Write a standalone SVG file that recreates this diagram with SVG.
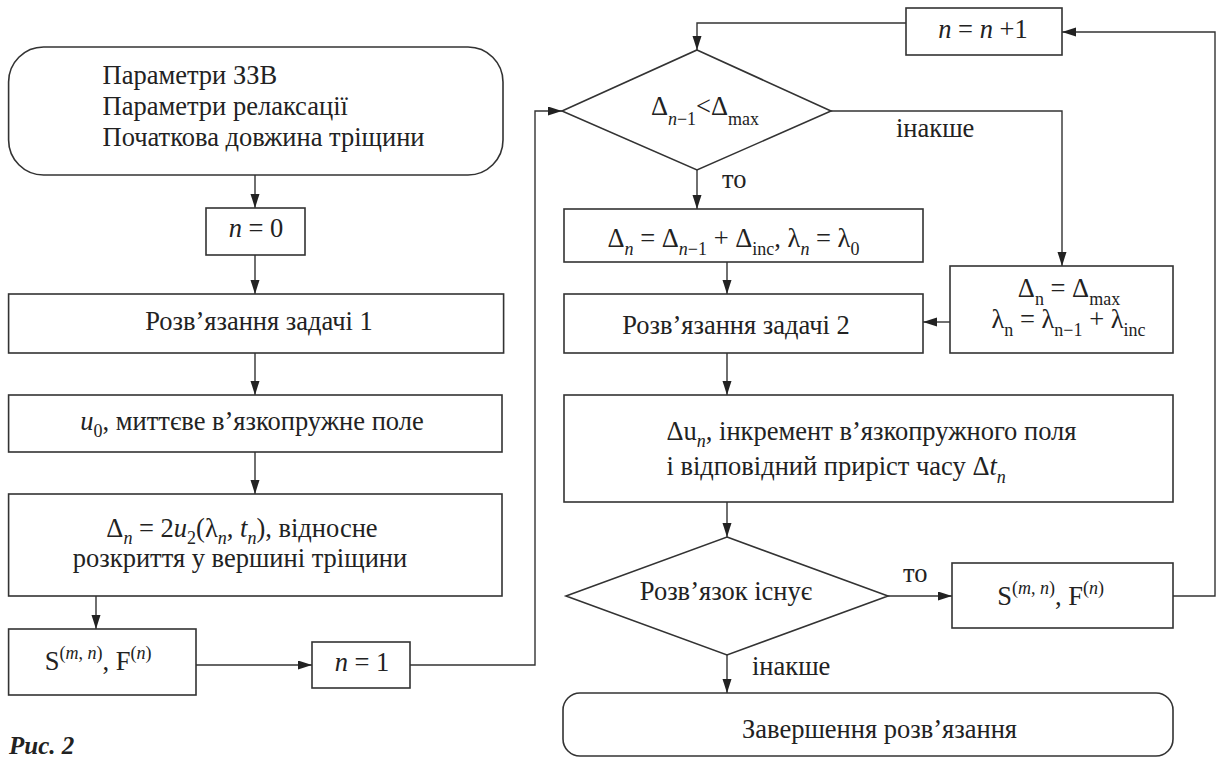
<svg xmlns="http://www.w3.org/2000/svg" width="1217" height="758" viewBox="0 0 1217 758" font-family="Liberation Serif, Tinos, Times New Roman, DejaVu Serif, serif">
<defs>
<marker id="ah" markerUnits="userSpaceOnUse" markerWidth="14" markerHeight="10" refX="14" refY="4.5" orient="auto">
<path d="M0,0 L14,4.5 L0,9 z" fill="#222"/>
</marker>
<style>
.b{fill:#fff;stroke:#333;stroke-width:1.6}
.c{fill:none;stroke:#333;stroke-width:1.4}
.a{marker-end:url(#ah)}
text{font-size:26.5px;fill:#222}
.m{text-anchor:middle}
.i{font-style:italic}
.s{font-size:18px}
.cap{font-weight:bold;font-style:italic;font-size:25px}
</style>
</defs>
<rect width="1217" height="758" fill="#fff"/>
<g id="connectors">
<path class="c a" d="M255,175 V208"/>
<path class="c a" d="M255,255 V294"/>
<path class="c a" d="M255,353 V395"/>
<path class="c a" d="M255,452 V494"/>
<path class="c a" d="M96,596 V629"/>
<path class="c a" d="M196,665 H312"/>
<path class="c a" d="M410,665 H535 V111 H562"/>
<path class="c a" d="M697,170 V209"/>
<path class="c a" d="M727,262 V294"/>
<path class="c a" d="M831,111 H1062 V266"/>
<path class="c a" d="M950,322 H923"/>
<path class="c a" d="M727,353 V395"/>
<path class="c a" d="M727,502 V537"/>
<path class="c a" d="M888,596 H952"/>
<path class="c a" d="M1173,596 H1215 V32 H1062"/>
<path class="c a" d="M906,23 H697 V50"/>
<path class="c a" d="M727,655 V693"/>
</g>
<g id="start">
<rect class="b" x="8.6" y="47" width="494.4" height="128" rx="35"/>
<text x="102.5" y="84">Параметри ЗЗВ</text>
<text x="102.5" y="115">Параметри релаксації</text>
<text x="102.5" y="146">Початкова довжина тріщини</text>
</g>
<g id="n0">
<rect class="b" x="206" y="208" width="99" height="47"/>
<text class="m" x="256" y="237"><tspan class="i">n</tspan> = 0</text>
</g>
<g id="task1">
<rect class="b" x="8.6" y="294" width="495" height="59"/>
<text class="m" x="259" y="330">Розв’язання задачі 1</text>
</g>
<g id="u0">
<rect class="b" x="8.6" y="395" width="493.4" height="57"/>
<text class="m" x="252" y="430"><tspan class="i">u</tspan><tspan class="s" dy="7">0</tspan><tspan dy="-7">, миттєве в’язкопружне поле</tspan></text>
</g>
<g id="delta-n">
<rect class="b" x="8.6" y="494" width="493.4" height="102"/>
<text class="m" x="242" y="537">Δ<tspan class="s i" dy="7">n</tspan><tspan dy="-7"> = 2</tspan><tspan class="i">u</tspan><tspan class="s" dy="7">2</tspan><tspan dy="-7">(λ</tspan><tspan class="s i" dy="7">n</tspan><tspan dy="-7">, </tspan><tspan class="i">t</tspan><tspan class="s i" dy="7">n</tspan><tspan dy="-7">), відносне</tspan></text>
<text class="m" x="240" y="567">розкриття у вершині тріщини</text>
</g>
<g id="sf1">
<rect class="b" x="8.6" y="629" width="187.4" height="66"/>
<text class="m" x="98" y="670">S<tspan class="s" dy="-11">(</tspan><tspan class="s i">m</tspan><tspan class="s">, </tspan><tspan class="s i">n</tspan><tspan class="s">)</tspan><tspan dy="11">, F</tspan><tspan class="s" dy="-11">(</tspan><tspan class="s i">n</tspan><tspan class="s">)</tspan></text>
</g>
<g id="n1">
<rect class="b" x="312" y="642" width="98" height="46"/>
<text class="m" x="362" y="671"><tspan class="i">n</tspan> = 1</text>
</g>
<g id="ninc">
<rect class="b" x="906" y="8" width="156" height="47"/>
<text class="m" x="983" y="38"><tspan class="i">n</tspan> = <tspan class="i">n</tspan> +1</text>
</g>
<g id="cond1">
<polygon class="b" points="697,50 831,111 697,170 562,111"/>
<text class="m" x="705" y="115">Δ<tspan class="s" dy="10"><tspan class="i">n</tspan>−1</tspan><tspan dy="-10">&lt;Δ</tspan><tspan class="s" dy="10">max</tspan></text>
</g>
<text x="722" y="188">то</text>
<text x="896" y="137">інакше</text>
<g id="update1">
<rect class="b" x="564" y="209" width="359" height="53"/>
<text class="m" x="733.5" y="247">Δ<tspan class="s i" dy="8">n</tspan><tspan dy="-8"> = Δ</tspan><tspan class="s" dy="8"><tspan class="i">n</tspan>−1</tspan><tspan dy="-8"> + Δ</tspan><tspan class="s" dy="8">inc</tspan><tspan dy="-8">, λ</tspan><tspan class="s i" dy="8">n</tspan><tspan dy="-8"> = λ</tspan><tspan class="s" dy="8">0</tspan></text>
</g>
<g id="update2">
<rect class="b" x="950" y="266" width="223" height="87"/>
<text class="m" x="1069" y="297">Δ<tspan class="s" dy="8">n</tspan><tspan dy="-8"> = Δ</tspan><tspan class="s" dy="8">max</tspan></text>
<text class="m" x="1068.5" y="328">λ<tspan class="s" dy="8">n</tspan><tspan dy="-8"> = λ</tspan><tspan class="s" dy="8">n−1</tspan><tspan dy="-8"> + λ</tspan><tspan class="s" dy="8">inc</tspan></text>
</g>
<g id="task2">
<rect class="b" x="564" y="294" width="359" height="59"/>
<text class="m" x="736" y="334">Розв’язання задачі 2</text>
</g>
<g id="increment">
<rect class="b" x="564" y="395" width="609" height="107"/>
<text x="666.5" y="440">Δu<tspan class="s i" dy="7">n</tspan><tspan dy="-7">, інкремент в’язкопружного поля</tspan></text>
<text x="666.5" y="475">і відповідний приріст часу Δ<tspan class="i">t</tspan><tspan class="s i" dy="8">n</tspan></text>
</g>
<g id="cond2">
<polygon class="b" points="727,537 888,596 727,655 566,596"/>
<text class="m" x="726" y="600">Розв’язок існує</text>
</g>
<text x="903" y="582">то</text>
<text x="752" y="675">інакше</text>
<g id="sf2">
<rect class="b" x="952" y="563" width="221" height="65"/>
<text class="m" x="1050.5" y="605">S<tspan class="s" dy="-11">(</tspan><tspan class="s i">m</tspan><tspan class="s">, </tspan><tspan class="s i">n</tspan><tspan class="s">)</tspan><tspan dy="11">, F</tspan><tspan class="s" dy="-11">(</tspan><tspan class="s i">n</tspan><tspan class="s">)</tspan></text>
</g>
<g id="end">
<rect class="b" x="563" y="693" width="610" height="63" rx="17"/>
<text class="m" x="879.5" y="738">Завершення розв’язання</text>
</g>
<text class="cap" x="9" y="754">Рис. 2</text>
</svg>
